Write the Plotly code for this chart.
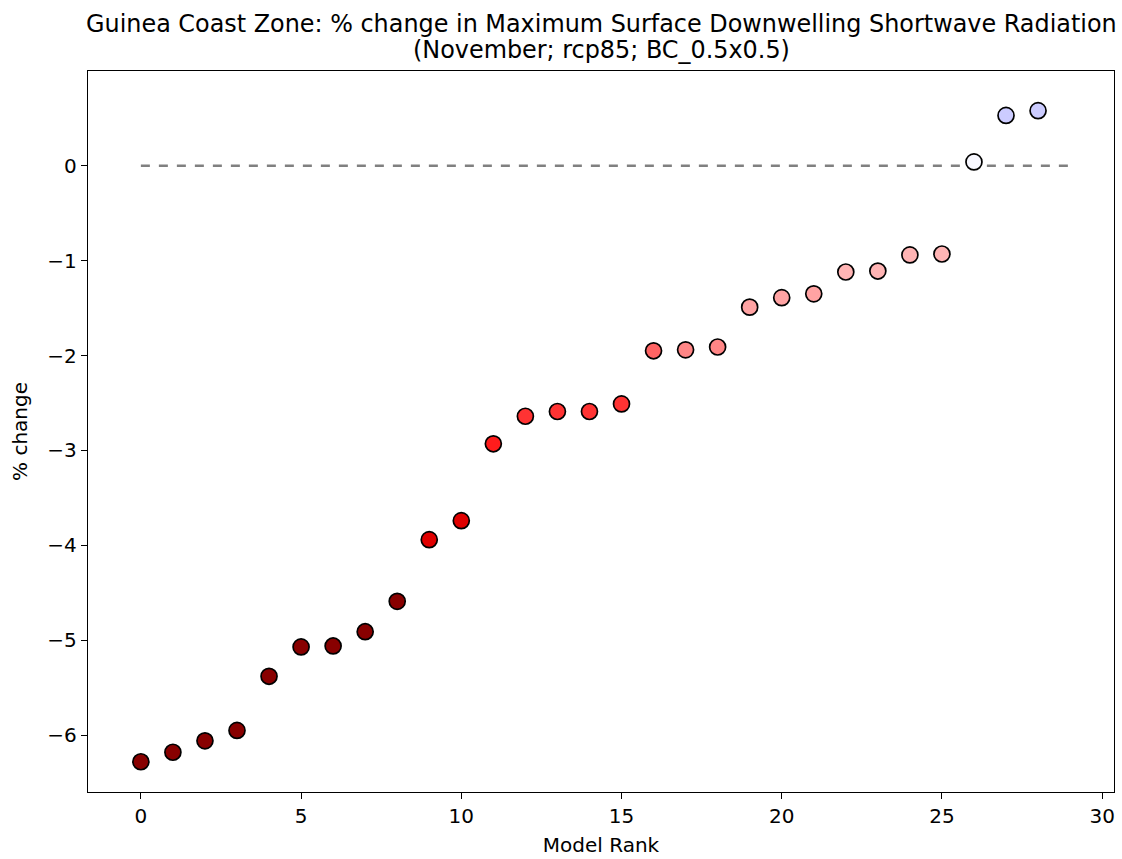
import plotly.graph_objects as go

ranks = list(range(29))
values = [-6.28, -6.18, -6.06, -5.95, -5.38, -5.07, -5.06, -4.91, -4.59,
          -3.94, -3.74, -2.93, -2.64, -2.59, -2.59, -2.51, -1.95, -1.94,
          -1.91, -1.49, -1.39, -1.35, -1.12, -1.11, -0.94, -0.93, 0.04,
          0.53, 0.58]
colors = (["#880000"] * 9 + ["#e00000"] * 2 + ["#ff1c1c"] + ["#ff3333"] * 4 +
          ["#ff6464", "#ff8686", "#ff8686"] + ["#ffa3a3"] * 3 + ["#ffb4b4"] * 4 +
          ["#f8f8ff"] + ["#ccccff"] * 2)
zero_x = [0, 29]
zero_y = [0, 0]
title_lines = ["Guinea Coast Zone: % change in Maximum Surface Downwelling Shortwave Radiation",
               "(November; rcp85; BC_0.5x0.5)"]

FONT = "DejaVu Sans"

fig = go.Figure()
fig.add_trace(go.Scatter(x=zero_x, y=zero_y, mode="lines",
                         line=dict(color="gray", width=2.4, dash="dash"),
                         showlegend=False, hoverinfo="skip"))
fig.add_trace(go.Scatter(x=ranks, y=values, mode="markers",
                         marker=dict(size=16, color=colors,
                                     line=dict(color="black", width=1.7)),
                         showlegend=False))

axis_common = dict(showgrid=False, zeroline=False, showline=True, mirror=True,
                   linecolor="black", linewidth=1.3, ticks="outside",
                   ticklen=6, tickwidth=1.2, tickcolor="black",
                   tickfont=dict(family=FONT, size=20, color="black"))

fig.update_layout(
    width=1122, height=859,
    paper_bgcolor="white", plot_bgcolor="white",
    margin=dict(l=88, r=7, t=71, b=65),
    xaxis=dict(range=[-1.65, 30.37], tickvals=[0, 5, 10, 15, 20, 25, 30],
               title=dict(text="Model Rank", standoff=10,
                          font=dict(family=FONT, size=20, color="black")),
               **axis_common),
    yaxis=dict(range=[-6.599, 0.998], tickvals=[0, -1, -2, -3, -4, -5, -6],
               ticktext=["0", "−1", "−2", "−3", "−4", "−5", "−6"],
               title=dict(text="% change", standoff=14,
                          font=dict(family=FONT, size=20, color="black")),
               **axis_common),
    annotations=[
        dict(text=title_lines[0], x=0.5, y=1.065, xref="paper", yref="paper",
             xanchor="center", yanchor="middle", showarrow=False,
             font=dict(family=FONT, size=23.9, color="black")),
        dict(text=title_lines[1], x=0.5, y=1.029, xref="paper", yref="paper",
             xanchor="center", yanchor="middle", showarrow=False,
             font=dict(family=FONT, size=23.9, color="black")),
    ],
)

fig.write_html("out.html", config={"displayModeBar": False},
               post_script="document.body.style.margin='0';document.body.style.overflow='hidden';")
